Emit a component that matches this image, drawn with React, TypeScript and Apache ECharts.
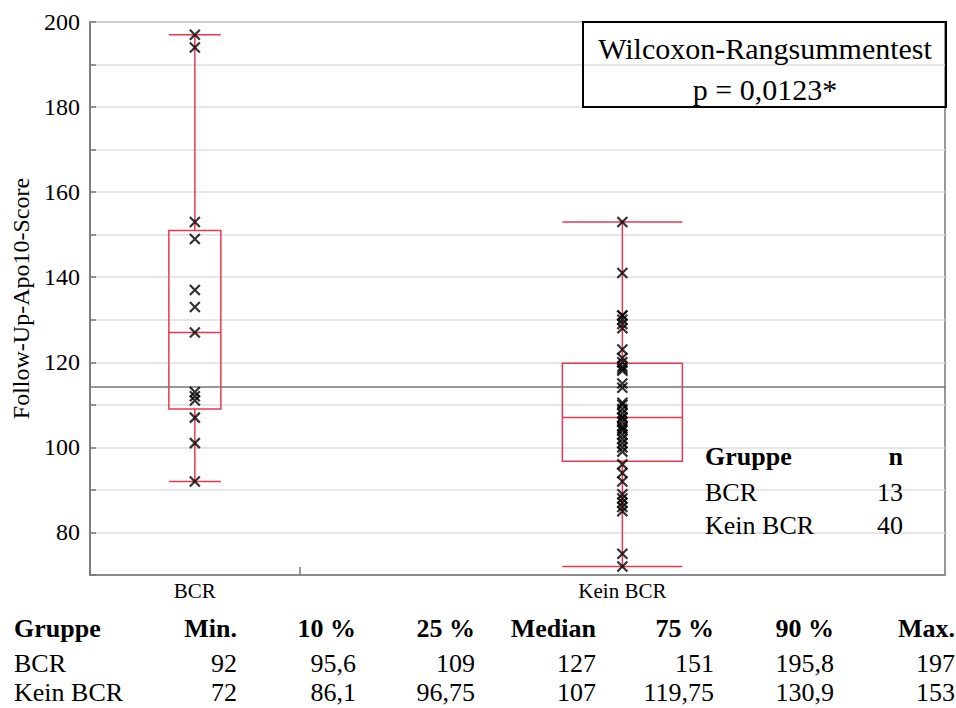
import React, { useEffect, useRef } from "react";
import * as echarts from "echarts";

// ---- data ----
const groups = ["BCR", "Kein BCR"];
const groupN = [13, 40];
const bcrValues = [197, 194, 153, 149, 137, 133, 127, 113, 112, 111, 107, 101, 92];
const keinBcrValues = [
  72, 75, 85, 86, 87, 88, 89, 92, 94, 96,
  99, 100, 101, 102, 103, 104, 104.5, 105, 106, 107,
  107, 108, 109, 110, 110.5, 114, 115, 118, 118.5, 119,
  120, 121, 123, 128, 129, 130, 131, 131, 141, 153,
];
const quantileHeaders = ["Gruppe", "Min.", "10 %", "25 %", "Median", "75 %", "90 %", "Max."];
const bcrQuantiles = [92, 95.6, 109, 127, 151, 195.8, 197];
const keinBcrQuantiles = [72, 86.1, 96.75, 107, 119.75, 130.9, 153];
const testName = "Wilcoxon-Rangsummentest";
const pValueText = "p = 0,0123*";
const yTicks = [80, 100, 120, 140, 160, 180, 200];

// ---- styles ----
const FONT = "Liberation Serif";
const RED = "#e8384f";
const BOX_HALF_PX = [26, 60];
const TABLE_RIGHT = [0, 237, 356, 475, 596, 714, 834, 955];

const fmt = (v: number) => String(v).replace(".", ",");

const txt = (text: string, x: number, y: number, size: number, bold: boolean, align: string) => {
  const style: any = {
    text,
    fontFamily: FONT,
    fontSize: size,
    fill: "#000",
    align,
    verticalAlign: "middle",
  };
  if (bold) style.fontWeight = "bold";
  return { type: "text", x, y, z: 10, style };
};

export default function App() {
  const ref = useRef<HTMLDivElement>(null);
  useEffect(() => {
    document.body.style.margin = "0";
    const chart = echarts.init(ref.current!, null, { renderer: "svg" });
    const total = groupN.reduce((a, b) => a + b, 0);
    const centers = [groupN[0] / 2, groupN[0] + groupN[1] / 2];
    const allVals = [...bcrValues, ...keinBcrValues];
    const mean = allVals.reduce((a, b) => a + b, 0) / allVals.length;
    const quants = [bcrQuantiles, keinBcrQuantiles];

    const boxData = groups.map((g, i) => {
      const q = quants[i];
      return [centers[i], q[0], q[2], q[3], q[4], q[6], i];
    });

    const scatterData = [
      ...bcrValues.map((v) => [centers[0], v]),
      ...keinBcrValues.map((v) => [centers[1], v]),
    ];

    const graphics: any[] = [];
    graphics.push({
      type: "rect",
      z: 10,
      shape: { x: 583, y: 22, width: 363, height: 85 },
      style: { fill: "transparent", stroke: "#000", lineWidth: 2 },
    });
    graphics.push(txt(testName, 765, 48, 30, false, "center"));
    graphics.push(txt(pValueText, 765, 89, 30, false, "center"));

    const nRows = [["Gruppe", "n"], ...groups.map((g, i) => [g, String(groupN[i])])];
    const nYs = [456, 492, 525];
    nRows.forEach((r, ri) => {
      graphics.push(txt(r[0], 705, nYs[ri], 26, ri === 0, "left"));
      graphics.push(txt(r[1], 903, nYs[ri], 26, ri === 0, "right"));
    });

    const qRows = [quantileHeaders, ...groups.map((g, i) => [g, ...quants[i].map(fmt)])];
    const qYs = [628, 663, 692];
    qRows.forEach((r, ri) => {
      r.forEach((cell, ci) => {
        graphics.push(txt(cell, ci === 0 ? 14 : TABLE_RIGHT[ci], qYs[ri], 26, ri === 0, ci === 0 ? "left" : "right"));
      });
    });

    chart.setOption({
      animation: false,
      backgroundColor: "#fff",
      grid: { left: 90, right: 11, top: 22, bottom: 133, show: true, borderColor: "#777", borderWidth: 1.5 },
      xAxis: {
        type: "value",
        min: 0,
        max: total,
        axisLine: { show: true, lineStyle: { color: "#777", width: 1.5 } },
        axisTick: { show: true, inside: true, length: 8, customValues: [groupN[0]], lineStyle: { color: "#777", width: 1.5 } },
        axisLabel: {
          show: true,
          customValues: centers,
          formatter: (v: number) => (Math.abs(v - centers[0]) < 1e-6 ? groups[0] : groups[1]),
          fontFamily: FONT,
          fontSize: 21,
          color: "#000",
          margin: 5,
        },
        splitLine: { show: false },
      },
      yAxis: {
        type: "value",
        min: 70,
        max: 200,
        interval: 10,
        name: "Follow-Up-Apo10-Score",
        nameLocation: "middle",
        nameGap: 56,
        nameTextStyle: { fontFamily: FONT, fontSize: 24, color: "#000" },
        axisLine: { show: true, lineStyle: { color: "#777", width: 1.5 } },
        axisTick: { show: true, inside: true, length: 6, lineStyle: { color: "#777", width: 1.5 } },
        axisLabel: {
          formatter: (v: number) => (yTicks.includes(v) ? String(v) : ""),
          fontFamily: FONT,
          fontSize: 24,
          color: "#000",
          margin: 10,
        },
        splitLine: { show: true, lineStyle: { color: "#dedede", width: 1.5 } },
      },
      series: [
        {
          type: "custom",
          data: boxData,
          z: 3,
          renderItem: (params: any, api: any) => {
            const cx = api.value(0);
            const mn = api.value(1), q1 = api.value(2), md = api.value(3), q3 = api.value(4), mx = api.value(5);
            const idx = api.value(6);
            const hw = BOX_HALF_PX[idx];
            const pMin = api.coord([cx, mn]);
            const pQ1 = api.coord([cx, q1]);
            const pMd = api.coord([cx, md]);
            const pQ3 = api.coord([cx, q3]);
            const pMax = api.coord([cx, mx]);
            const x = pMin[0];
            const ls = { stroke: RED, lineWidth: 1.5, fill: "none" };
            return {
              type: "group",
              children: [
                { type: "rect", shape: { x: x - hw, y: pQ3[1], width: hw * 2, height: pQ1[1] - pQ3[1] }, style: ls },
                { type: "line", shape: { x1: x - hw, y1: pMd[1], x2: x + hw, y2: pMd[1] }, style: ls },
                { type: "line", shape: { x1: x, y1: pQ3[1], x2: x, y2: pMax[1] }, style: ls },
                { type: "line", shape: { x1: x, y1: pQ1[1], x2: x, y2: pMin[1] }, style: ls },
                { type: "line", shape: { x1: x - hw, y1: pMax[1], x2: x + hw, y2: pMax[1] }, style: ls },
                { type: "line", shape: { x1: x - hw, y1: pMin[1], x2: x + hw, y2: pMin[1] }, style: ls },
              ],
            };
          },
        },
        {
          type: "scatter",
          data: scatterData,
          z: 5,
          symbol: "path://M0,0L10,10M0,10L10,0",
          symbolSize: 10,
          itemStyle: { color: "transparent", borderColor: "#000", borderWidth: 2.2 },
          markLine: {
            silent: true,
            symbol: ["none", "none"],
            label: { show: false },
            lineStyle: { color: "#777", width: 1.5, type: "solid" },
            data: [{ yAxis: mean }],
          },
        },
      ],
      graphic: graphics,
    });
    return () => chart.dispose();
  }, []);
  return <div ref={ref} style={{ width: 956, height: 708 }} />;
}
